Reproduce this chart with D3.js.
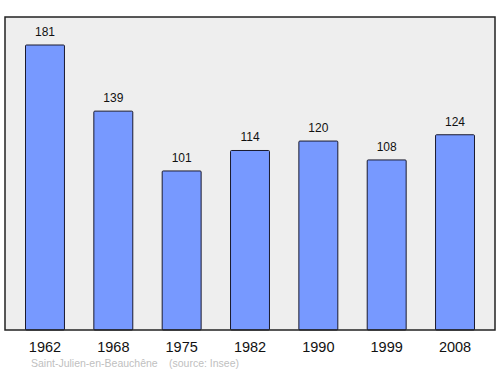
<!DOCTYPE html>
<html>
<head>
<meta charset="utf-8">
<script src="https://cdn.jsdelivr.net/npm/d3@7"></script>
<style>
  body { margin: 0; background: #fff; }
  svg { display: block; font-family: "Liberation Sans", Arial, sans-serif; }
</style>
</head>
<body>
<div id="chart"></div>
<script>
// data
const years = ['1962', '1968', '1975', '1982', '1990', '1999', '2008'];
const population = [181, 139, 101, 114, 120, 108, 124];
const commune = 'Saint-Julien-en-Beauchêne';
const source = '(source: Insee)';

const width = 500;
const height = 374;
const frameLeft = 5;
const frameRight = 495;
const frameTop = 17;
const frameBottom = 330;

const data = years.map((y, i) => ({ year: y, value: population[i] }));

const $svg = d3.select('#chart').append('svg')
	.attr('width', width)
	.attr('height', height);

// scales
const scaleX = d3.scaleBand()
	.domain(years)
	.range([frameLeft, frameRight])
	.paddingInner(0.43)
	.paddingOuter(0.3);

const scaleY = d3.scaleLinear()
	.domain([0, 181])
	.range([frameBottom, 45]);

// background frame
$svg.append('rect')
	.attr('x', frameLeft)
	.attr('y', frameTop)
	.attr('width', frameRight - frameLeft)
	.attr('height', frameBottom - frameTop)
	.attr('fill', '#eeeeee')
	.attr('stroke', 'none');

// bars
$svg.append('g').attr('class', 'bars')
	.selectAll('rect')
	.data(data)
	.enter().append('rect')
	.attr('x', d => scaleX(d.year))
	.attr('y', d => scaleY(d.value))
	.attr('width', scaleX.bandwidth())
	.attr('height', d => scaleY(0) - scaleY(d.value))
	.attr('rx', 1)
	.attr('fill', '#7799ff')
	.attr('stroke', '#1a1a2e')
	.attr('stroke-width', 1);

// value labels
$svg.append('g').attr('class', 'labels')
	.selectAll('text')
	.data(data)
	.enter().append('text')
	.attr('x', d => scaleX(d.year) + scaleX.bandwidth() / 2)
	.attr('y', d => scaleY(d.value) - 9)
	.attr('text-anchor', 'middle')
	.attr('font-size', 12)
	.attr('fill', '#111')
	.text(d => d.value);

// frame border on top
$svg.append('rect')
	.attr('x', frameLeft)
	.attr('y', frameTop)
	.attr('width', frameRight - frameLeft)
	.attr('height', frameBottom - frameTop)
	.attr('fill', 'none')
	.attr('stroke', '#222')
	.attr('stroke-width', 1.5);

// x axis labels
const xAxis = d3.axisBottom(scaleX).tickSize(0).tickPadding(12);
const $xAxis = $svg.append('g')
	.attr('transform', `translate(0,${frameBottom})`)
	.call(xAxis);
$xAxis.select('.domain').remove();
$xAxis.selectAll('text')
	.attr('font-size', 14.5)
	.attr('font-family', '"Liberation Sans", Arial, sans-serif')
	.attr('fill', '#111');

// source line
$svg.append('text')
	.attr('x', 31)
	.attr('y', 367)
	.attr('font-size', 10.5)
	.attr('fill', '#c0c0c0')
	.text(commune);
$svg.append('text')
	.attr('x', 169)
	.attr('y', 367)
	.attr('font-size', 10.5)
	.attr('fill', '#c0c0c0')
	.text(source);
</script>
</body>
</html>
